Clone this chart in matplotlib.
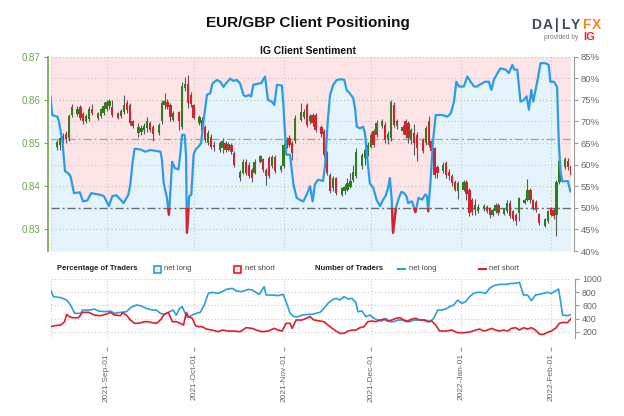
import numpy as np
import pandas as pd
import matplotlib
matplotlib.use("Agg")
import matplotlib.pyplot as plt
import matplotlib.dates as mdates
from matplotlib.patches import Rectangle
from matplotlib.lines import Line2D
from datetime import datetime, timedelta

plt.rcParams['font.family'] = ['Liberation Sans', 'DejaVu Sans']

# ---------------- DATA ----------------
# daily candles (Sun..Fri), 2021-08-15 .. 2022-02-08
candle_open = [
    .8490, .8496, .8502, .8521, .8511, .8566,
    .8568, .8584, .8568, .8552, .8555, .8580,
    .8558, .8562, .8570, .8580, .8585, .8583,
    .8569, .8562, .8572, .8592, .8588, .8550,
    .8523, .8525, .8530, .8534, .8546, .8538,
    .8523, .8550, .8588, .8595, .8588, .8554,
    .8572, .8538, .8627, .8637, .8612, .8588,
    .8547, .8554, .8538, .8500, .8515, .8496,
    .8485, .8488, .8500, .8485, .8495, .8478,
    .8420, .8431, .8457, .8450, .8438, .8431,
    .8457, .8462, .8438, .8465, .8447, .8467,
    .8438, .8447, .8493, .8512, .8500, .8504,
    .8554, .8560, .8588, .8550, .8565, .8565,
    .8538, .8527, .8477, .8427, .8396, .8419,
    .8380, .8388, .8392, .8399, .8415, .8423,
    .8448, .8465, .8478, .8492, .8527, .8519,
    .8539, .8542, .8510, .8511, .8588, .8539,
    .8527, .8550, .8546, .8508, .8523, .8519,
    .8507, .8500, .8550, .8504, .8488, .8445,
    .8435, .8454, .8434, .8423, .8410, .8390,
    .8391, .8410, .8391, .8368, .8345, .8342,
    .8347, .8353, .8349, .8334, .8342, .8357,
    .8336, .8342, .8361, .8342, .8334, .8338,
    .8361, .8368, .8392, .8368, .8364, .8335,
    .8309, .8319, .8349, .8345, .8334, .8410,
    .8444, .8459, .8448]
candle_high = [
    .8508, .8515, .8523, .8527, .8567, .8590,
    .8585, .8588, .8572, .8568, .8586, .8590,
    .8572, .8582, .8596, .8600, .8603, .8600,
    .8572, .8580, .8612, .8600, .8592, .8553,
    .8546, .8542, .8546, .8561, .8552, .8542,
    .8546, .8600, .8615, .8603, .8592, .8575,
    .8575, .8642, .8652, .8657, .8618, .8590,
    .8566, .8560, .8541, .8530, .8520, .8505,
    .8505, .8512, .8505, .8502, .8500, .8482,
    .8437, .8462, .8462, .8455, .8442, .8462,
    .8473, .8466, .8442, .8470, .8472, .8472,
    .8449, .8500, .8515, .8518, .8505, .8565,
    .8592, .8578, .8592, .8567, .8570, .8570,
    .8542, .8532, .8482, .8430, .8424, .8422,
    .8398, .8405, .8420, .8430, .8450, .8488,
    .8478, .8490, .8502, .8525, .8532, .8553,
    .8555, .8548, .8528, .8600, .8596, .8556,
    .8542, .8555, .8550, .8535, .8545, .8525,
    .8512, .8540, .8562, .8510, .8492, .8450,
    .8455, .8458, .8440, .8428, .8415, .8413,
    .8414, .8414, .8395, .8372, .8370, .8360,
    .8358, .8357, .8352, .8350, .8362, .8361,
    .8350, .8368, .8368, .8346, .8338, .8376,
    .8372, .8417, .8397, .8370, .8368, .8338,
    .8327, .8346, .8353, .8349, .8414, .8463,
    .8468, .8466, .8455]
candle_low = [
    .8485, .8485, .8498, .8500, .8505, .8560,
    .8562, .8554, .8545, .8547, .8550, .8565,
    .8554, .8558, .8566, .8575, .8580, .8561,
    .8555, .8558, .8568, .8570, .8542, .8535,
    .8515, .8518, .8522, .8525, .8525, .8505,
    .8518, .8545, .8580, .8578, .8550, .8550,
    .8530, .8532, .8620, .8581, .8583, .8555,
    .8542, .8522, .8502, .8495, .8487, .8482,
    .8480, .8478, .8480, .8482, .8475, .8445,
    .8412, .8428, .8425, .8418, .8410, .8428,
    .8454, .8432, .8404, .8418, .8442, .8430,
    .8434, .8442, .8488, .8490, .8461, .8500,
    .8550, .8555, .8538, .8545, .8540, .8525,
    .8515, .8468, .8425, .8385, .8390, .8380,
    .8377, .8383, .8388, .8395, .8410, .8418,
    .8440, .8450, .8470, .8488, .8490, .8513,
    .8535, .8500, .8497, .8505, .8538, .8532,
    .8522, .8512, .8500, .8498, .8473, .8458,
    .8476, .8495, .8490, .8470, .8420, .8420,
    .8430, .8420, .8415, .8400, .8390, .8370,
    .8388, .8368, .8332, .8334, .8334, .8338,
    .8343, .8338, .8327, .8330, .8338, .8334,
    .8333, .8338, .8327, .8319, .8311, .8320,
    .8358, .8365, .8362, .8345, .8340, .8310,
    .8306, .8315, .8330, .8325, .8285, .8405,
    .8440, .8438, .8420]
candle_close = [
    .8502, .8511, .8517, .8510, .8563, .8584,
    .8580, .8558, .8550, .8563, .8580, .8570,
    .8569, .8578, .8585, .8596, .8598, .8565,
    .8558, .8574, .8588, .8576, .8546, .8540,
    .8538, .8535, .8540, .8550, .8531, .8520,
    .8542, .8592, .8598, .8583, .8560, .8569,
    .8550, .8632, .8637, .8592, .8590, .8558,
    .8561, .8527, .8508, .8523, .8492, .8490,
    .8500, .8505, .8485, .8497, .8480, .8450,
    .8434, .8457, .8431, .8423, .8419, .8457,
    .8469, .8438, .8423, .8423, .8467, .8436,
    .8446, .8495, .8508, .8496, .8477, .8558,
    .8573, .8573, .8542, .8562, .8546, .8530,
    .8520, .8473, .8431, .8388, .8419, .8384,
    .8395, .8399, .8407, .8411, .8434, .8480,
    .8473, .8485, .8495, .8519, .8496, .8546,
    .8550, .8508, .8520, .8596, .8542, .8550,
    .8538, .8519, .8511, .8531, .8500, .8488,
    .8481, .8535, .8496, .8481, .8427, .8430,
    .8450, .8427, .8423, .8407, .8392, .8408,
    .8410, .8383, .8338, .8340, .8357, .8353,
    .8355, .8342, .8334, .8345, .8357, .8338,
    .8347, .8361, .8330, .8323, .8319, .8372,
    .8368, .8392, .8368, .8349, .8345, .8315,
    .8323, .8342, .8334, .8330, .8410, .8459,
    .8463, .8444, .8425]

# IG client sentiment: % of traders net long (days relative to 2021-09-01)
sent_day = [-19.3, -18.7, -16.9, -16.4, -15.2, -14.3, -13.2, -12.4, -11.2, -9.2,
            -8.1, -6.6, -5.3, -2.1, -0.9, 0.8, 2.0, 3.4, 4.8, 5.9,
            7.5, 8.2, 9.0, 9.7, 11.7, 13.4, 15.1, 18.6, 19.1, 19.7,
            20.8, 21.5, 22.6, 23.5, 24.8, 25.5, 26.0, 26.9, 27.4, 27.7,
            28.5, 29.2, 30.0, 30.6, 31.7, 32.6, 33.4, 34.6, 35.7, 36.5,
            38.0, 39.2, 40.3, 41.1, 42.6, 43.7, 44.9, 46.0, 47.2, 48.0,
            48.9, 49.8, 50.6, 53.3, 54.6, 55.6, 56.9, 57.8, 58.7, 60.4,
            60.9, 61.9, 63.2, 64.4, 65.5, 66.7, 67.8, 69.0, 70.1, 71.0,
            71.8, 72.9, 74.6, 75.3, 76.2, 77.0, 78.1, 79.3, 81.0, 81.9,
            82.7, 83.8, 85.0, 85.6, 86.2, 87.3, 88.4, 89.0, 89.9, 90.7,
            91.9, 93.0, 94.2, 95.3, 96.1, 97.0, 97.6, 98.2, 98.7, 99.7,
            100.7, 101.6, 102.5, 103.3, 103.9, 105.2, 106.4, 107.5, 108.7, 109.8,
            110.4, 110.8, 111.6, 112.4, 113.4, 115.7, 117.4, 118.6, 119.7, 120.5,
            121.4, 123.1, 124.3, 125.4, 126.6, 127.7, 128.5, 130.4, 131.7, 132.6,
            133.4, 134.6, 135.7, 137.5, 138.6, 139.8, 140.5, 141.5, 142.6, 143.7,
            144.7, 145.5, 146.3, 147.0, 147.8, 148.6, 149.5, 151.2, 152.3, 152.9,
            154.1, 155.2, 155.8, 156.4, 157.0, 158.9, 159.8]
sent_pct = [75.8, 71.5, 71.1, 70.0, 65.4, 58.5, 58.0, 57.3, 53.4, 53.6,
            51.5, 51.7, 53.4, 53.0, 52.7, 50.4, 52.7, 52.9, 51.9, 51.1,
            53.0, 55.4, 60.7, 63.7, 63.5, 63.0, 63.4, 63.0, 61.0, 55.7,
            52.3, 48.4, 60.7, 59.2, 58.9, 63.0, 66.9, 66.9, 62.0, 44.2,
            52.7, 53.0, 62.3, 63.4, 64.2, 65.0, 70.0, 76.2, 76.5, 78.8,
            79.6, 79.2, 78.0, 78.8, 79.9, 79.4, 79.6, 78.8, 76.1, 75.8,
            76.1, 75.8, 78.5, 78.9, 80.4, 75.0, 74.6, 73.8, 78.5, 78.3,
            74.0, 62.3, 62.3, 55.4, 52.3, 51.8, 51.5, 53.1, 55.0, 51.5,
            55.5, 56.5, 56.2, 60.0, 70.0, 76.1, 78.5, 79.6, 79.8, 79.6,
            77.3, 76.5, 75.4, 73.1, 68.8, 68.4, 68.8, 67.3, 61.0, 55.7,
            54.6, 51.9, 50.4, 51.9, 52.7, 54.6, 56.9, 52.3, 44.2, 50.0,
            52.3, 53.7, 53.4, 52.7, 51.1, 51.5, 49.0, 52.3, 51.9, 53.1,
            52.7, 49.2, 56.0, 65.0, 71.5, 71.5, 71.1, 71.9, 74.6, 79.2,
            78.1, 78.1, 80.4, 79.2, 78.1, 78.1, 78.5, 79.2, 79.2, 77.3,
            79.6, 81.1, 82.3, 82.0, 81.2, 83.1, 82.0, 82.0, 74.6, 74.9,
            75.8, 72.7, 77.3, 74.6, 77.3, 80.0, 83.5, 83.5, 83.1, 79.2,
            79.2, 78.0, 65.0, 58.5, 56.1, 56.2, 53.8]

# Number of traders (days relative to 2021-09-01)
long_day = [-19.25, -18.29, -15.81, -13.75, -12.38, -11.0, -8.94, -8.25, -5.5, -4.13,
            -2.75, -0.69, 1.37, 2.75, 4.81, 6.87, 8.24, 10.31, 11.68, 13.74,
            15.8, 17.18, 18.55, 19.93, 21.3, 22.95, 24.05, 25.15, 26.11, 27.08,
            27.9, 28.45, 29.55, 30.92, 32.3, 33.67, 35.05, 36.42, 38.48, 39.86,
            41.23, 43.3, 44.67, 46.73, 48.79, 50.17, 52.64, 54.29, 54.98, 57.04,
            59.1, 60.89, 61.85, 63.23, 64.6, 65.98, 67.35, 69.41, 70.79, 72.16,
            73.54, 74.91, 76.28, 77.66, 79.03, 80.41, 81.78, 83.16, 84.53, 85.91,
            86.59, 87.97, 89.34, 90.72, 92.09, 93.47, 94.84, 96.22, 97.59, 98.97,
            100.34, 101.71, 103.09, 104.46, 105.84, 107.21, 108.59, 109.96, 111.34, 112.71,
            114.09, 115.46, 116.83, 118.21, 119.58, 120.96, 122.33, 123.71, 125.08, 126.46,
            127.83, 129.21, 130.58, 131.95, 133.33, 135.39, 137.45, 139.52, 140.89, 142.26,
            143.64, 145.01, 146.39, 147.76, 149.14, 150.51, 151.89, 153.26, 154.64, 155.73,
            157.11, 158.76, 160.13]
long_count = [833, 732, 717, 681, 605, 479, 479, 529, 529, 544,
              514, 504, 514, 479, 494, 504, 565, 605, 595, 554,
              529, 529, 479, 463, 494, 529, 453, 554, 580, 479,
              420, 428, 453, 479, 494, 605, 782, 797, 782, 808,
              843, 858, 818, 808, 843, 833, 767, 884, 757, 757,
              747, 767, 656, 479, 428, 428, 453, 463, 463, 479,
              494, 554, 630, 681, 706, 681, 732, 697, 706, 641,
              504, 514, 428, 453, 403, 377, 362, 403, 352, 352,
              377, 377, 352, 352, 377, 377, 377, 377, 352, 403,
              529, 529, 544, 580, 605, 681, 630, 656, 732, 782,
              797, 797, 782, 858, 899, 919, 919, 934, 934, 949,
              757, 757, 671, 757, 767, 782, 797, 782, 818, 848,
              453, 443, 463]
short_day = [-19.25, -17.87, -15.81, -14.44, -13.75, -12.79, -11.69, -9.63, -8.25, -6.19,
             -4.13, -2.07, -0.01, 1.37, 2.75, 4.81, 5.49, 6.87, 8.24, 9.62,
             10.99, 13.05, 14.43, 15.8, 17.18, 18.55, 19.93, 21.3, 22.68, 24.05,
             25.43, 26.53, 27.49, 28.18, 29.55, 30.65, 31.61, 32.99, 34.36, 36.42,
             38.48, 39.86, 41.92, 43.98, 46.04, 48.1, 50.17, 51.54, 53.6, 55.67,
             57.73, 59.1, 60.48, 61.85, 63.23, 63.91, 65.29, 67.35, 68.72, 70.1,
             71.47, 73.54, 74.91, 76.97, 79.03, 80.41, 81.78, 83.16, 84.53, 85.91,
             87.28, 88.66, 90.03, 91.41, 92.78, 94.16, 95.53, 96.91, 98.28, 99.66,
             101.03, 102.41, 103.78, 105.15, 106.53, 107.9, 109.28, 110.65, 112.03, 113.4,
             114.78, 116.84, 118.9, 120.96, 123.02, 125.08, 127.15, 128.52, 129.9, 131.27,
             132.65, 134.02, 135.39, 136.77, 138.14, 139.52, 140.89, 142.26, 143.64, 145.01,
             146.39, 147.76, 149.14, 150.51, 151.89, 153.26, 154.64, 156.01, 157.39, 158.76,
             160.13]
short_count = [276, 291, 301, 352, 463, 428, 413, 413, 494, 494,
               453, 443, 468, 494, 453, 443, 489, 453, 377, 327,
               327, 352, 352, 337, 327, 377, 463, 494, 352, 352,
               327, 301, 494, 428, 403, 291, 276, 276, 241, 225,
               200, 225, 210, 210, 200, 261, 251, 225, 200, 210,
               251, 225, 210, 327, 327, 251, 377, 377, 403, 428,
               377, 362, 352, 276, 210, 175, 175, 210, 225, 225,
               261, 276, 352, 362, 352, 377, 392, 362, 377, 403,
               413, 377, 362, 392, 403, 377, 377, 352, 362, 301,
               210, 210, 225, 185, 185, 195, 225, 241, 210, 225,
               251, 225, 210, 225, 210, 251, 261, 225, 261, 241,
               261, 225, 160, 160, 190, 210, 251, 327, 342, 337,
               403]

ref_price = 0.8509          # grey dash-dot reference line
month_ticks = ['2021-09-01', '2021-10-01', '2021-11-01', '2021-12-01', '2022-01-01', '2022-02-01']

# ---------------- STYLE ----------------
PINK = '#fde4e6'
LBLUE = '#e4f3fc'
BLUE = '#2b9de6'
RED = '#e01f2c'
CGREEN = '#2f7d1f'
CRED = '#d3232c'
AXGREEN = '#6aa84f'
GRID = '#c9c9c9'
GGRID = '#b5d69c'
TXT = '#666666'

W_PX, H_PX = 624, 416
fig = plt.figure(figsize=(W_PX / 100, H_PX / 100), dpi=100)
fig.patch.set_facecolor('white')

base = mdates.date2num(datetime(2021, 9, 1))
xmin, xmax = base - 19.3, base + 160.0

L = 50.5 / W_PX
Wd = 520.5 / W_PX

# ---------------- MAIN PANEL ----------------
ax_pct = fig.add_axes([L, 1 - 251 / H_PX, Wd, 194.3 / H_PX])
ax_px = ax_pct.twinx()

sx = base + np.array(sent_day)
sy = np.array(sent_pct)

ax_pct.set_xlim(xmin, xmax)
ax_pct.set_ylim(40, 85)
ax_px.set_ylim(0.825, 0.870)

ax_pct.fill_between(sx, sy, 85, color=PINK, lw=0, zorder=0)
ax_pct.fill_between(sx, 40, sy, color=LBLUE, lw=0, zorder=0)

# grids
dot = (0, (1, 2))
for p in [60, 70, 80]:
    ax_pct.axhline(p, color=GRID, lw=0.8, ls=dot, zorder=1)
for p in [0.83, 0.84, 0.85, 0.86, 0.87]:
    ax_px.axhline(p, color=GGRID, lw=0.9, ls=dot, zorder=1)
for m in month_ticks:
    ax_pct.axvline(mdates.date2num(pd.Timestamp(m)), color=GRID, lw=0.8, ls=dot, zorder=1)
ax_pct.axvline(xmin, color=GRID, lw=0.8, ls=dot, zorder=1)
ax_pct.axvline(xmax, color=GRID, lw=0.8, ls=dot, zorder=1)
ax_pct.axhline(40, color=GRID, lw=0.8, ls=dot, zorder=1)
ax_pct.axhline(50, color='#6d6d6d', lw=1.0, dashes=(6, 2, 1.5, 2), zorder=2)
ax_px.axhline(ref_price, color='#a8a8a8', lw=1.0, dashes=(6, 2, 1.5, 2), zorder=2)

# candles
cdates = [d for d in pd.date_range('2021-08-15', '2022-02-08') if d.weekday() != 5]
cx = mdates.date2num(cdates)
o = np.array(candle_open); h = np.array(candle_high)
lo = np.array(candle_low); c = np.array(candle_close)
ax_px.vlines(cx, lo, h, color='#5a5a5a', lw=0.8, zorder=3)
cols = [CGREEN if cc >= oo else CRED for oo, cc in zip(o, c)]
bh = np.maximum(np.abs(c - o), 0.00012)
ax_px.bar(cx, bh, bottom=np.minimum(o, c), width=0.8, color=cols, lw=0, zorder=4)

# sentiment line (blue, red below 50%)
ax_px.plot(sx, sy, color=BLUE, lw=1.6, transform=ax_pct.transData, zorder=5,
           solid_joinstyle='round')
red_line, = ax_px.plot(sx, sy, color=RED, lw=1.6, transform=ax_pct.transData, zorder=6,
                       solid_joinstyle='round')
clip = Rectangle((xmin, 30), xmax - xmin, 20, transform=ax_pct.transData)
red_line.set_clip_path(clip)

ax_px.set_xlim(xmin, xmax)

# axes styling
for sp in ['top', 'bottom', 'left']:
    ax_pct.spines[sp].set_visible(False)
ax_pct.spines['right'].set_position(('outward', 2))
ax_pct.spines['right'].set_color('#9a9a9a')
ax_pct.yaxis.tick_right()
ax_pct.set_yticks(np.arange(40, 86, 5))
ax_pct.set_yticklabels([f'{v}%' for v in range(40, 86, 5)])
ax_pct.tick_params(axis='y', colors='#9a9a9a', labelcolor=TXT, labelsize=6.8, length=3, pad=2)
ax_pct.set_xticks([])

for sp in ['top', 'bottom', 'right']:
    ax_px.spines[sp].set_visible(False)
ax_px.spines['left'].set_visible(True)
ax_px.spines['left'].set_position(('outward', 2))
ax_px.spines['left'].set_color(AXGREEN)
ax_px.spines['left'].set_linewidth(1.2)
ax_px.yaxis.tick_left()
ax_px.set_yticks([0.83, 0.84, 0.85, 0.86, 0.87])
ax_px.set_yticklabels(['0.83', '0.84', '0.85', '0.86', '0.87'])
ax_px.tick_params(axis='y', colors=AXGREEN, labelcolor=AXGREEN, labelsize=7, length=3, pad=2)
ax_px.set_xticks([])

# ---------------- BOTTOM PANEL ----------------
ax_b = fig.add_axes([L, 1 - 338.3 / H_PX, Wd, 59.3 / H_PX])
ax_b.set_xlim(xmin, xmax)
ax_b.set_ylim(100, 1000)
for v in [200, 400, 600, 800, 1000]:
    ax_b.axhline(v, color=GRID, lw=0.8, ls=dot, zorder=1)
ax_b.axhline(100, color=GRID, lw=0.8, ls=dot, zorder=1)
for m in month_ticks:
    ax_b.axvline(mdates.date2num(pd.Timestamp(m)), color=GRID, lw=0.8, ls=dot, zorder=1)
ax_b.axvline(xmin, color=GRID, lw=0.8, ls=dot, zorder=1)
ax_b.axvline(xmax, color=GRID, lw=0.8, ls=dot, zorder=1)

ax_b.plot(base + np.array(long_day), long_count, color=BLUE, lw=1.2, zorder=3)
ax_b.plot(base + np.array(short_day), short_count, color=RED, lw=1.2, zorder=3)

for sp in ['top', 'left']:
    ax_b.spines[sp].set_visible(False)
ax_b.spines['bottom'].set_position(('outward', 6))
ax_b.spines['bottom'].set_visible(False)
ax_b.spines['right'].set_position(('outward', 3))
ax_b.spines['right'].set_color('#9a9a9a')
ax_b.yaxis.tick_right()
ax_b.set_yticks([200, 400, 600, 800, 1000])
ax_b.tick_params(axis='y', colors='#9a9a9a', labelcolor=TXT, labelsize=6.3, length=3, pad=2)
ax_b.set_xticks([mdates.date2num(pd.Timestamp(m)) for m in month_ticks])
ax_b.xaxis.set_major_formatter(mdates.DateFormatter('%Y-%b-%d'))
ax_b.tick_params(axis='x', colors='#9a9a9a', labelcolor='#666666', labelsize=6,
                 length=3, pad=1.5, labelrotation=90)

# ---------------- TEXTS ----------------
def fx(px):
    return px / W_PX

def fy(py):
    return 1 - py / H_PX

fig.text(fx(308), fy(23), 'EUR/GBP Client Positioning', ha='center', va='center',
         fontsize=11, fontweight='bold', color='#111111')
fig.text(fx(308), fy(51), 'IG Client Sentiment', ha='center', va='center',
         fontsize=7.5, fontweight='bold', color='#111111')

# DailyFX logo
for ch, xp, col in [('D', 536, '#3c4a5c'), ('A', 547.5, '#3c4a5c'), ('|', 557, '#3c4a5c'),
                    ('L', 565, '#3c4a5c'), ('Y', 575.5, '#3c4a5c'),
                    ('F', 586.5, '#f28a1e'), ('X', 597, '#f28a1e')]:
    fig.text(fx(xp), fy(25), ch, ha='center', va='center', fontsize=10,
             fontweight='bold', color=col)
fig.text(fx(578), fy(37.5), 'provided by', ha='right', va='center', fontsize=4.8,
         color='#777777')
fig.text(fx(583), fy(37), 'IG', ha='left', va='center', fontsize=8, fontweight='bold',
         color='#e8222a')

# legend row
ly = 269
LFS = 5.5
fig.text(fx(57), fy(ly), 'Percentage of Traders', ha='left', va='center', fontsize=LFS,
         fontweight='bold', color='#222222')
fig.patches.append(Rectangle((fx(154), fy(ly + 3.5)), 7 / W_PX, 7 / H_PX,
                             transform=fig.transFigure, facecolor=LBLUE,
                             edgecolor=BLUE, lw=1.2))
fig.text(fx(164), fy(ly), 'net long', ha='left', va='center', fontsize=LFS, color='#444444')
fig.patches.append(Rectangle((fx(234), fy(ly + 3.5)), 7 / W_PX, 7 / H_PX,
                             transform=fig.transFigure, facecolor=PINK,
                             edgecolor=RED, lw=1.2))
fig.text(fx(245), fy(ly), 'net short', ha='left', va='center', fontsize=LFS, color='#444444')
fig.text(fx(315), fy(ly), 'Number of Traders', ha='left', va='center', fontsize=LFS,
         fontweight='bold', color='#222222')
fig.lines.append(Line2D([fx(398), fx(405)], [fy(ly), fy(ly)], transform=fig.transFigure,
                        color=BLUE, lw=1.5))
fig.text(fx(409), fy(ly), 'net long', ha='left', va='center', fontsize=LFS, color='#444444')
fig.lines.append(Line2D([fx(479), fx(486)], [fy(ly), fy(ly)], transform=fig.transFigure,
                        color=RED, lw=1.5))
fig.text(fx(489), fy(ly), 'net short', ha='left', va='center', fontsize=LFS, color='#444444')

fig.savefig('out.png', dpi=100)
